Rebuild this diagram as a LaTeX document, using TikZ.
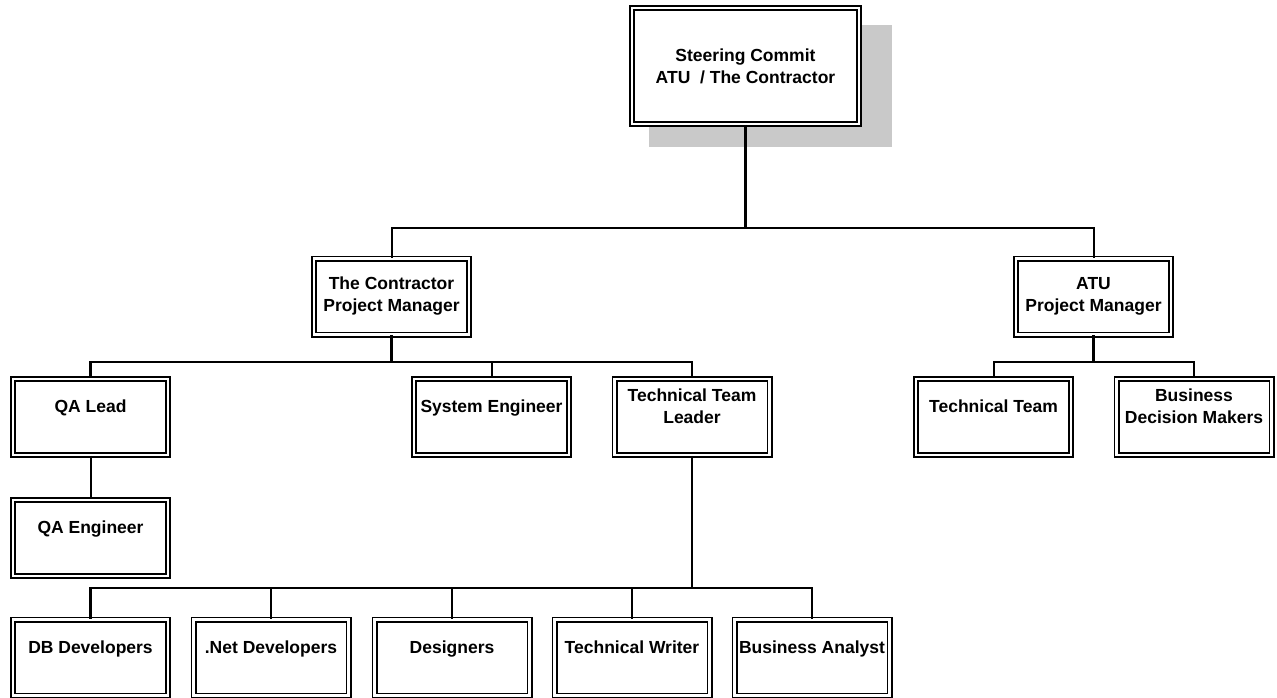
\documentclass[tikz,border=0pt]{standalone}
\usepackage{fontspec}
\setmainfont{Liberation Sans}
\begin{document}
\begin{tikzpicture}[x=1pt,y=-1pt,
  box/.style={draw=black,line width=1.9pt,double=white,double distance=2.2pt,fill=white,
    minimum width=155pt,minimum height=76pt,inner sep=0pt},
  txt/.style={font=\fontsize{17.5}{22}\selectfont\bfseries,align=center,inner sep=0pt},
  one/.style={txt,anchor=base},
  bar/.style={line width=2.4pt},
  drop/.style={line width=2pt}]
\useasboundingbox (0,0) rectangle (1277,698);
% shadow
\fill[black!21] (649,25) rectangle (892,147);
% top
\node[box,minimum width=227pt,minimum height=116pt] (steer) at (745.5,66) {};
\node[txt] (steert) at (745.5,66.5) {Steering Commit\\ATU \ / The Contractor};
% level 2
\node[box] (cpm) at (391.5,296.5) {};
\node[txt] (cpmt) at (391.5,296.5) {The Contractor\\Project Manager};
\node[box] (apm) at (1093.5,296.5) {};
\node[txt] (apmt) at (1093.5,296.5) {ATU\\Project Manager};
% level 3
\node[box] (qa) at (90.5,417) {};
\node[one] (qat) at (90.5,412.3) {QA Lead};
\node[box] (sys) at (491.5,417) {};
\node[one] (syst) at (491.5,412.3) {System Engineer};
\node[box] (ttl) at (692,417) {};
\node[txt] (ttlt) at (692,406) {Technical Team\\Leader};
\node[box] (tt) at (993.5,417) {};
\node[one] (ttt) at (993.5,412.3) {Technical Team};
\node[box] (bdm) at (1194,417) {};
\node[txt] (bdmt) at (1194,406) {Business\\Decision Makers};
% QA engineer
\node[box] (qae) at (90.5,538) {};
\node[one] (qaet) at (90.5,533.3) {QA Engineer};
% bottom row
\node[box] (db) at (90.5,657.5) {};
\node[one] (dbt) at (90.5,653.3) {DB Developers};
\node[box] (net) at (271,657.5) {};
\node[one] (nett) at (271,653.3) {.Net Developers};
\node[box] (des) at (452,657.5) {};
\node[one] (dest) at (452,653.3) {Designers};
\node[box] (tw) at (632,657.5) {};
\node[one] (twt) at (632,653.3) {Technical Writer};
\node[box] (ba) at (812,657.5) {};
\node[one] (bat) at (812,653.3) {Business Analyst};
% junctions
\coordinate (j1) at (745.5,228);
\coordinate (j2) at (391.5,362);
\coordinate (j3) at (1093.5,362);
\coordinate (j4) at (692,588);
% connectors
\draw[bar] (steer.south) -- (j1);
\draw[drop] (j1) -| (cpm.north);
\draw[drop] (j1) -| (apm.north);
\draw[bar] (cpm.south) -- (j2);
\draw[bar] (j2) -| (qa.north);
\draw[drop] (j2) -| (sys.north);
\draw[drop] (j2) -| (ttl.north);
\draw[bar] (apm.south) -- (j3);
\draw[drop] (j3) -| (tt.north);
\draw[drop] (j3) -| (bdm.north);
\draw[drop] (qa.south) -- (qae.north);
\draw[bar] (ttl.south) -- (j4);
\draw[bar] (j4) -| (db.north);
\draw[drop] (j4) -| (ba.north);
\draw[drop] (net.north) -- (net.north |- j4);
\draw[drop] (des.north) -- (des.north |- j4);
\draw[drop] (tw.north) -- (tw.north |- j4);
\end{tikzpicture}
\end{document}
